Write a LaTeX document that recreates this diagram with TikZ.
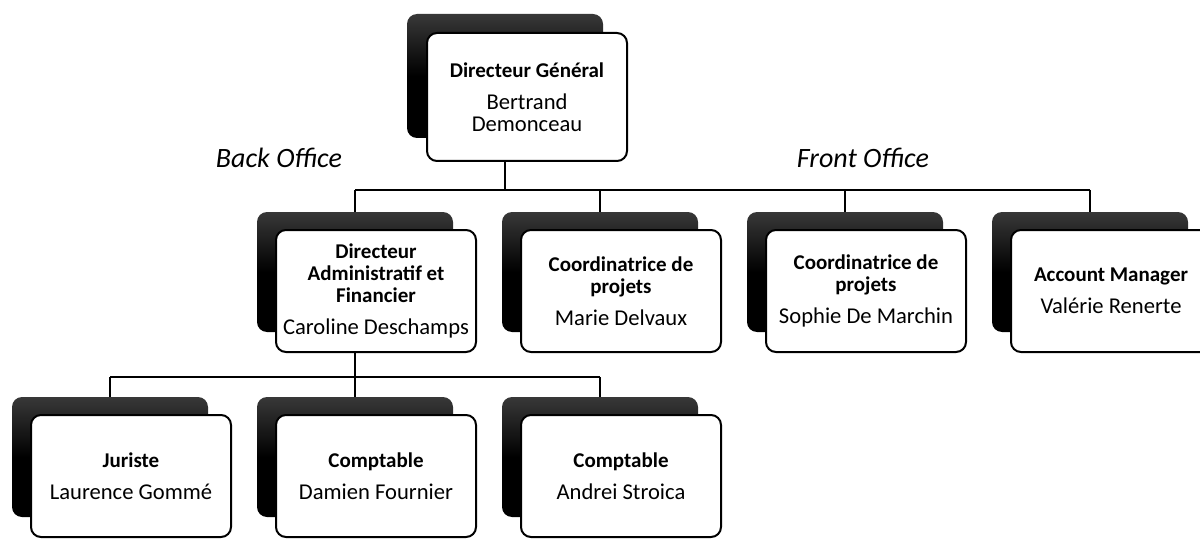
\documentclass[tikz,border=0pt]{standalone}
\usepackage{fontspec}
\setmainfont{Carlito}
\newcommand{\nom}{\fontsize{11.3}{11}\selectfont}

\begin{document}
\begin{tikzpicture}[
      x=0.5pt, y=-0.5pt,
      poste/.style={
        draw,
        line width=1pt,
        rounded corners=5pt,
        fill=white,
        minimum width=100pt,
        minimum height=61pt,
        inner sep=2pt,
        align=center,
        font=\fontsize{10.5}{11}\selectfont
      },
      ombre/.style={
        rounded corners=5pt,
        top color=black!78,
        bottom color=black,
        middle color=black,
        minimum width=98pt,
        minimum height=60pt,
        inner sep=0pt
      },
      lien/.style={line width=1pt},
      office/.style={font=\fontsize{14}{16}\selectfont\itshape}
    ]
      \useasboundingbox (0,0) rectangle (1200,540);

      % Direction
      \node[ombre, minimum height=62pt] (dgo) at (505,76) {};
      \node[poste, minimum height=64pt] (dg) at (527,97) {\textbf{Directeur Général}\\[5pt]{\nom Bertrand}\\{\nom Demonceau}};

      % Offices
      \node[office] (back) at (279,158) {Back Office};
      \node[office] (front) at (863,158) {Front Office};

      % Niveau 2
      \node[ombre] (dafo) at (355,272) {};
      \node[poste] (daf) at (376,291) {\textbf{Directeur}\\\textbf{Administratif et}\\\textbf{Financier}\\[5pt]{\nom Caroline Deschamps}};
      \node[ombre] (mdo) at (600,272) {};
      \node[poste] (md) at (621,291) {\textbf{Coordinatrice de}\\\textbf{projets}\\[5pt]{\nom Marie Delvaux}};
      \node[ombre] (sdo) at (845,272) {};
      \node[poste] (sd) at (866,291) {\textbf{Coordinatrice de}\\\textbf{projets}\\[5pt]{\nom Sophie De Marchin}};
      \node[ombre] (vro) at (1090,272) {};
      \node[poste] (vr) at (1111,291) {\textbf{Account Manager}\\[5pt]{\nom Valérie Renerte}};

      % Niveau 3
      \node[ombre] (lgo) at (110,457) {};
      \node[poste] (lg) at (131,476) {\textbf{Juriste}\\[5pt]{\nom Laurence Gommé}};
      \node[ombre] (dfo) at (355,457) {};
      \node[poste] (df) at (376,476) {\textbf{Comptable}\\[5pt]{\nom Damien Fournier}};
      \node[ombre] (aso) at (600,457) {};
      \node[poste] (as) at (621,476) {\textbf{Comptable}\\[5pt]{\nom Andrei Stroica}};

      % Liens
      \coordinate (haut) at (505,190);
      \coordinate (bas) at (355,377);
      \draw[lien] (dg.south -| haut) -- (haut);
      \draw[lien] (dafo.north |- haut) -- (vro.north |- haut);
      \foreach \n in {dafo,mdo,sdo,vro}
      { \draw[lien] (\n.north |- haut) -- (\n.north);
      };
      \draw[lien] (daf.south -| dafo) -- (dfo.north);
      \draw[lien] (lgo.north |- bas) -- (aso.north |- bas);
      \draw[lien] (lgo.north |- bas) -- (lgo.north);
      \draw[lien] (aso.north |- bas) -- (aso.north);
    \end{tikzpicture}
\end{document}
